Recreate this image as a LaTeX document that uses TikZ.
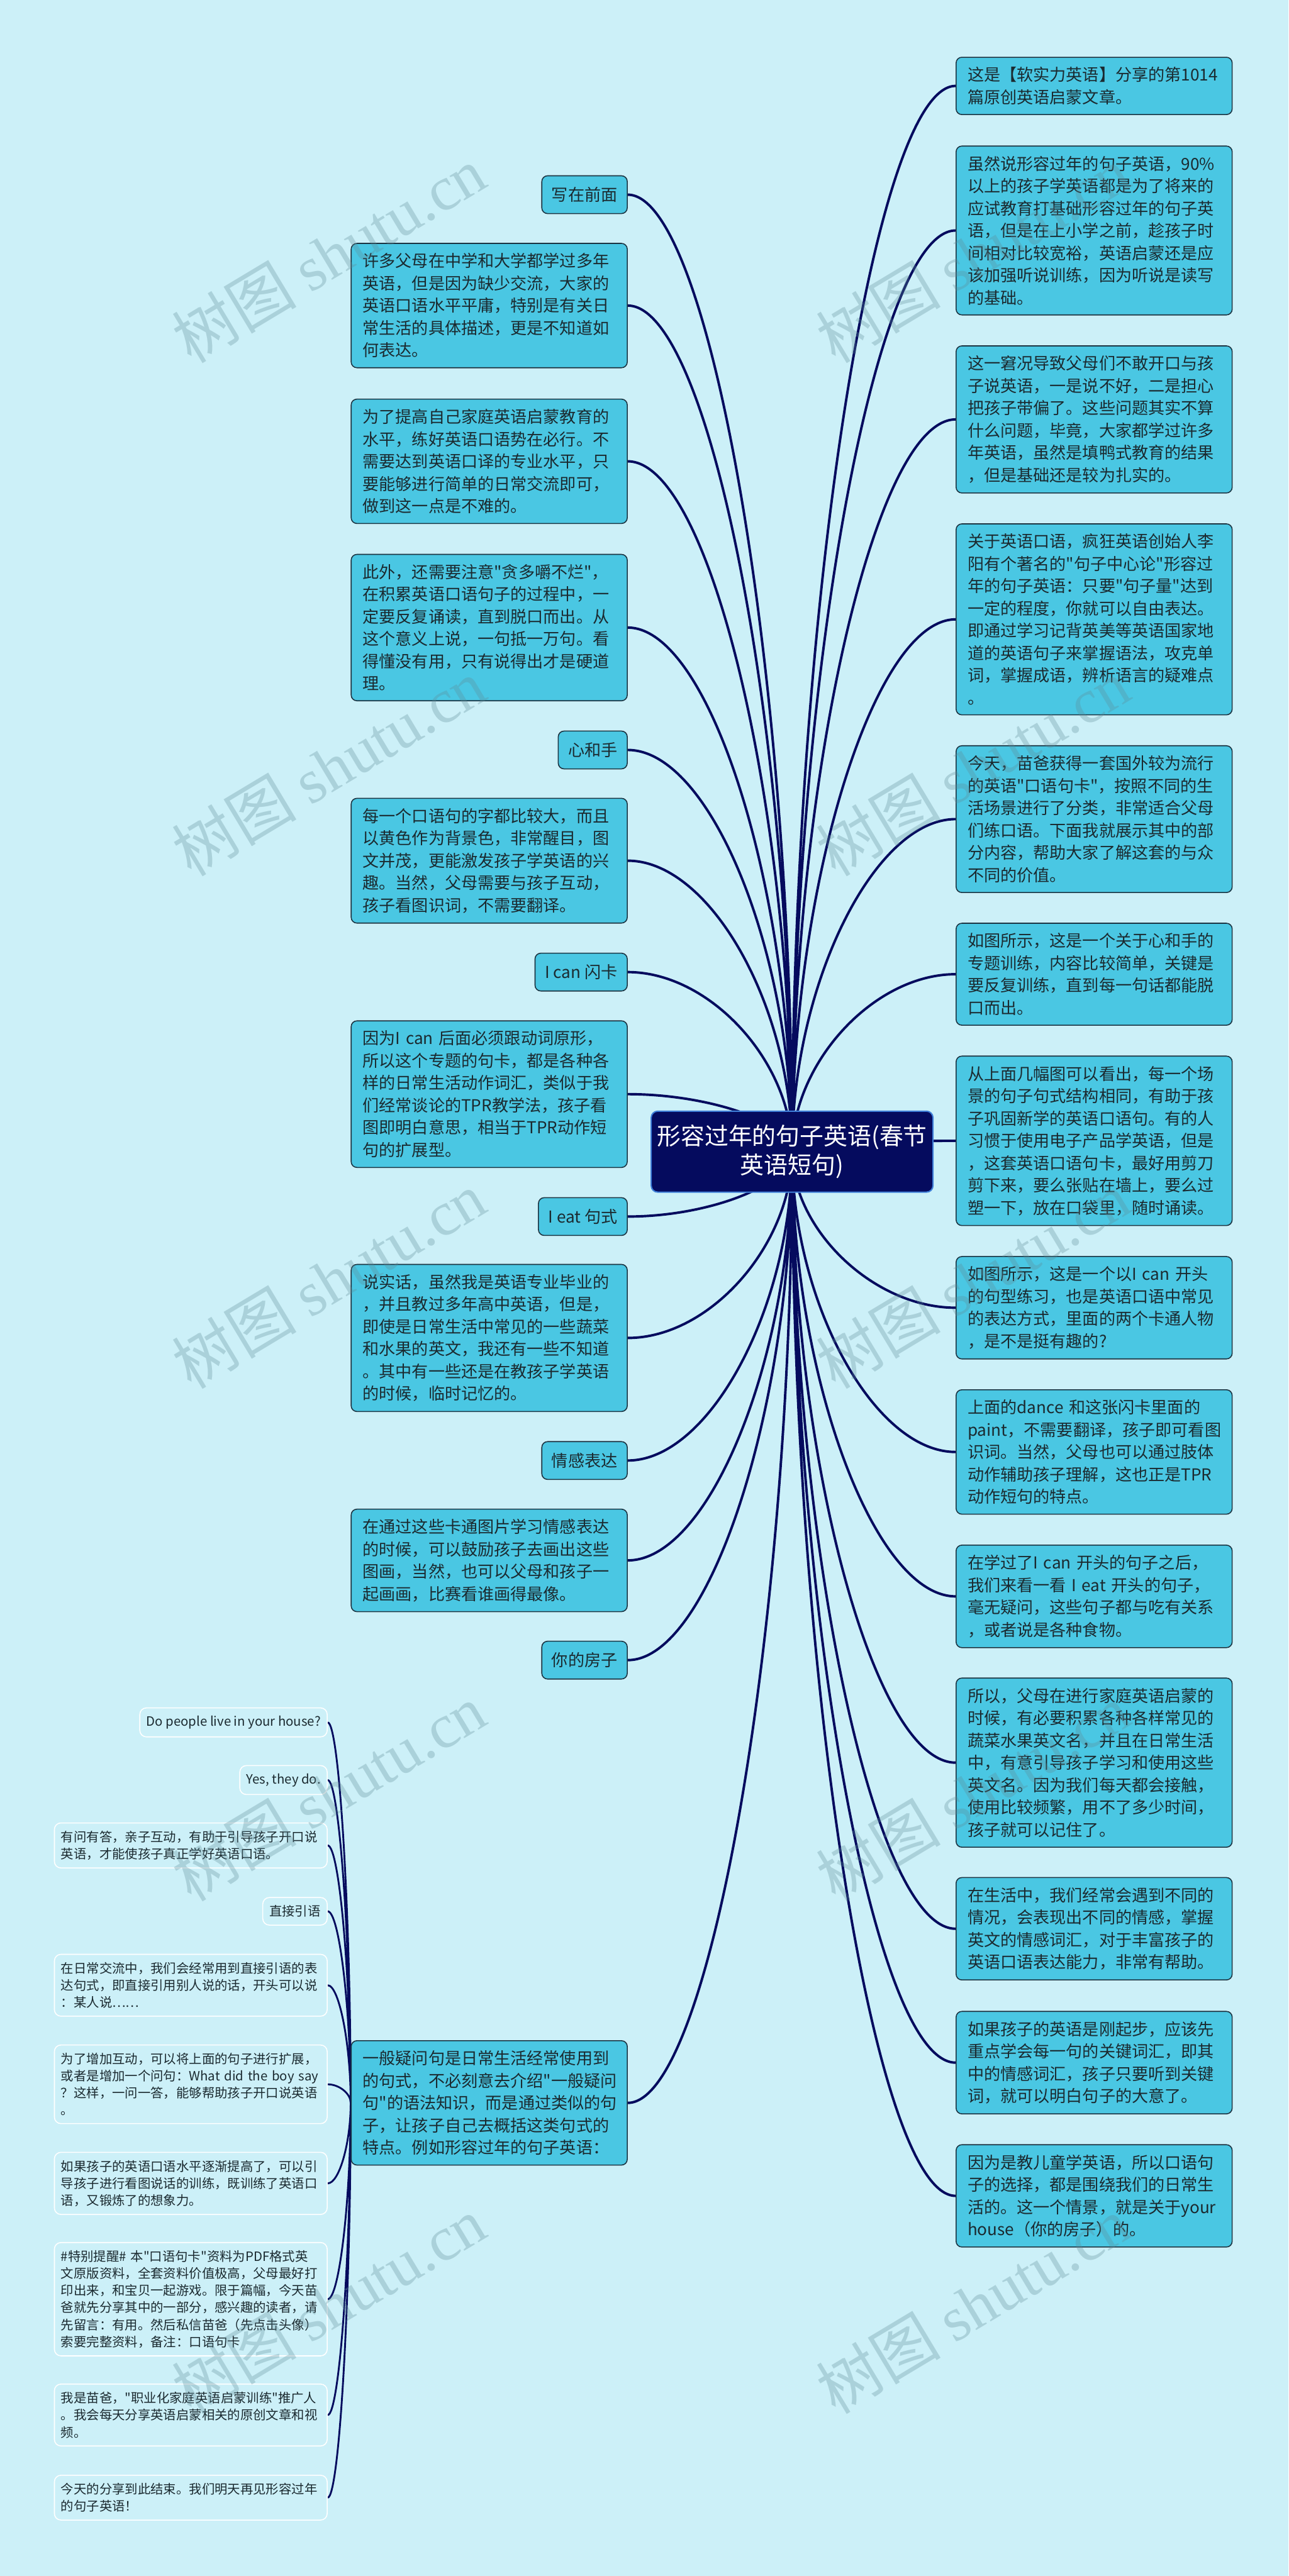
\documentclass[tikz,border=0pt]{standalone}
\usepackage{fontspec}
\setmainfont{Noto Sans CJK SC}[Ligatures=TeXOff]
\newfontfamily\wmfont{Liberation Serif}
\usetikzlibrary{calc}
\definecolor{bgcyan}{HTML}{CCF0F8}
\definecolor{boxcyan}{HTML}{4AC7E3}
\definecolor{boxline}{HTML}{1C3442}
\definecolor{navy}{HTML}{050B5E}
\definecolor{rootline}{HTML}{3F7FD9}
\definecolor{inktext}{HTML}{1B2A30}
\definecolor{wmgray}{HTML}{5E8A96}
\pgfdeclarelayer{bg}
\pgfsetlayers{bg,main}

\begin{document}
\begin{tikzpicture}[x=1pt, y=-1pt,
  box/.style={draw=boxline, line width=0.6pt, rounded corners=3.5pt, fill=boxcyan,
              text=inktext, text width=154pt, inner xsep=7pt, inner ysep=6pt,
              align=left, font=\fontsize{10}{13.6}\selectfont},
  tag/.style={draw=boxline, line width=0.6pt, rounded corners=3.5pt, fill=boxcyan,
              text=inktext, minimum height=23pt, inner xsep=6pt, inner ysep=2pt,
              font=\fontsize{10}{13.6}\selectfont},
  note/.style={draw=white, line width=0.6pt, rounded corners=4pt, text=inktext,
               inner xsep=4pt, inner ysep=4.8pt, align=left,
               font=\fontsize{7.8}{10.4}\selectfont},
  wide/.style={text width=158pt},
  root/.style={draw=rootline, line width=0.8pt, rounded corners=4pt, fill=navy,
               text=white, minimum width=171.5pt, minimum height=49.3pt, align=center,
               font=\fontsize{14.5}{17.4}\selectfont},
  link/.style={draw=navy, line width=#1,
               to path={.. controls ($(\tikztostart)!.5!(\tikztostart|-\tikztotarget)$)
                        and ($(\tikztostart|-\tikztotarget)!.5!(\tikztotarget)$) .. (\tikztotarget)}},
  link/.default=1.5pt,
  wm/.style={text=wmgray, opacity=0.3, rotate=31, font=\fontsize{38}{40}\selectfont},
]
\useasboundingbox (0,0) rectangle (784,1568);
% 中心主题
\node[root] (topic) at (482,701) {形容过年的句子英语(春节\\英语短句)};
\coordinate (hub) at (482,701);
% 右侧
\node[box, anchor=west] (soft)    at (581.5,52.3)  {这是【软实力英语】分享的第1014\\篇原创英语启蒙文章。};
\node[box, anchor=west] (exam)    at (581.5,140.3) {虽然说形容过年的句子英语，90\%\\以上的孩子学英语都是为了将来的\\应试教育打基础形容过年的句子英\\语，但是在上小学之前，趁孩子时\\间相对比较宽裕，英语启蒙还是应\\该加强听说训练，因为听说是读写\\的基础。};
\node[box, anchor=west] (worry)   at (581.5,255.3) {这一窘况导致父母们不敢开口与孩\\子说英语，一是说不好，二是担心\\把孩子带偏了。这些问题其实不算\\什么问题，毕竟，大家都学过许多\\年英语，虽然是填鸭式教育的结果\\，但是基础还是较为扎实的。};
\node[box, anchor=west] (liyang)  at (581.5,377)   {关于英语口语，疯狂英语创始人李\\阳有个著名的"句子中心论"形容过\\年的句子英语：只要"句子量"达到\\一定的程度，你就可以自由表达。\\即通过学习记背英美等英语国家地\\道的英语句子来掌握语法，攻克单\\词，掌握成语，辨析语言的疑难点\\。};
\node[box, anchor=west] (cards)   at (581.5,498.6) {今天，苗爸获得一套国外较为流行\\的英语"口语句卡"，按照不同的生\\活场景进行了分类，非常适合父母\\们练口语。下面我就展示其中的部\\分内容，帮助大家了解这套的与众\\不同的价值。};
\node[box, anchor=west] (heart)   at (581.5,593)   {如图所示，这是一个关于心和手的\\专题训练，内容比较简单，关键是\\要反复训练，直到每一句话都能脱\\口而出。};
\node[box, anchor=west] (scenes)  at (581.5,694.4) {从上面几幅图可以看出，每一个场\\景的句子句式结构相同，有助于孩\\子巩固新学的英语口语句。有的人\\习惯于使用电子产品学英语，但是\\，这套英语口语句卡，最好用剪刀\\剪下来，要么张贴在墙上，要么过\\塑一下，放在口袋里，随时诵读。};
\node[box, anchor=west] (ican)    at (581.5,796)   {如图所示，这是一个以I can 开头\\的句型练习，也是英语口语中常见\\的表达方式，里面的两个卡通人物\\，是不是挺有趣的?};
\node[box, anchor=west] (dance)   at (581.5,883.8) {上面的dance 和这张闪卡里面的\\paint，不需要翻译，孩子即可看图\\识词。当然，父母也可以通过肢体\\动作辅助孩子理解，这也正是TPR\\动作短句的特点。};
\node[box, anchor=west] (ieat)    at (581.5,971.7) {在学过了I can 开头的句子之后，\\我们来看一看 I eat 开头的句子，\\毫无疑问，这些句子都与吃有关系\\，或者说是各种食物。};
\node[box, anchor=west] (veg)     at (581.5,1072.9) {所以，父母在进行家庭英语启蒙的\\时候，有必要积累各种各样常见的\\蔬菜水果英文名，并且在日常生活\\中，有意引导孩子学习和使用这些\\英文名。因为我们每天都会接触，\\使用比较频繁，用不了多少时间，\\孩子就可以记住了。};
\node[box, anchor=west] (feel)    at (581.5,1174)  {在生活中，我们经常会遇到不同的\\情况，会表现出不同的情感，掌握\\英文的情感词汇，对于丰富孩子的\\英语口语表达能力，非常有帮助。};
\node[box, anchor=west] (keyword) at (581.5,1255.5) {如果孩子的英语是刚起步，应该先\\重点学会每一句的关键词汇，即其\\中的情感词汇，孩子只要听到关键\\词，就可以明白句子的大意了。};
\node[box, anchor=west] (house)   at (581.5,1336.6) {因为是教儿童学英语，所以口语句\\子的选择，都是围绕我们的日常生\\活的。这一个情景，就是关于your\\house（你的房子）的。};
% 左侧
\node[tag, anchor=east] (preface)  at (382,118.5) {写在前面};
\node[box, anchor=east] (parents)  at (382,186)   {许多父母在中学和大学都学过多年\\英语，但是因为缺少交流，大家的\\英语口语水平平庸，特别是有关日\\常生活的具体描述，更是不知道如\\何表达。};
\node[box, anchor=east] (level)    at (382,280.8) {为了提高自己家庭英语启蒙教育的\\水平，练好英语口语势在必行。不\\需要达到英语口译的专业水平，只\\要能够进行简单的日常交流即可，\\做到这一点是不难的。};
\node[box, anchor=east] (chew)     at (382,382)   {此外，还需要注意"贪多嚼不烂"，\\在积累英语口语句子的过程中，一\\定要反复诵读，直到脱口而出。从\\这个意义上说，一句抵一万句。看\\得懂没有用，只有说得出才是硬道\\理。};
\node[tag, anchor=east] (hearttag) at (382,456.5) {心和手};
\node[box, anchor=east] (yellow)   at (382,523.9) {每一个口语句的字都比较大，而且\\以黄色作为背景色，非常醒目，图\\文并茂，更能激发孩子学英语的兴\\趣。当然，父母需要与孩子互动，\\孩子看图识词，不需要翻译。};
\node[tag, anchor=east] (icantag)  at (382,591.7) {I can 闪卡};
\node[box, anchor=east] (verbs)    at (382,666)   {因为I can 后面必须跟动词原形，\\所以这个专题的句卡，都是各种各\\样的日常生活动作词汇，类似于我\\们经常谈论的TPR教学法，孩子看\\图即明白意思，相当于TPR动作短\\句的扩展型。};
\node[tag, anchor=east] (ieattag)  at (382,740.5) {I eat 句式};
\node[box, anchor=east] (honest)   at (382,814.4) {说实话，虽然我是英语专业毕业的\\，并且教过多年高中英语，但是，\\即使是日常生活中常见的一些蔬菜\\和水果的英文，我还有一些不知道\\。其中有一些还是在教孩子学英语\\的时候，临时记忆的。};
\node[tag, anchor=east] (feeltag)  at (382,889)   {情感表达};
\node[box, anchor=east] (drawing)  at (382,949.8) {在通过这些卡通图片学习情感表达\\的时候，可以鼓励孩子去画出这些\\图画，当然，也可以父母和孩子一\\起画画，比赛看谁画得最像。};
\node[tag, anchor=east] (housetag) at (382,1010.5) {你的房子};
\node[box, anchor=east] (question) at (382,1280)  {一般疑问句是日常生活经常使用到\\的句式，不必刻意去介绍"一般疑问\\句"的语法知识，而是通过类似的句\\子，让孩子自己去概括这类句式的\\特点。例如形容过年的句子英语：};
% 一般疑问句的子节点
\node[note, anchor=east]       (asked)   at (199.4,1048.4) {Do people live in your house?};
\node[note, anchor=east]       (answer)  at (199.4,1083.5) {Yes, they do.};
\node[note, wide, anchor=east] (qa)      at (199.4,1123.3) {有问有答，亲子互动，有助于引导孩子开口说\\英语，才能使孩子真正学好英语口语。};
\node[note, anchor=east]       (direct)  at (199.4,1163.4) {直接引语};
\node[note, wide, anchor=east] (daily)   at (199.4,1208.4) {在日常交流中，我们会经常用到直接引语的表\\达句式，即直接引用别人说的话，开头可以说\\：某人说……};
\node[note, wide, anchor=east] (extend)  at (199.4,1268.7) {为了增加互动，可以将上面的句子进行扩展，\\或者是增加一个问句：What did the boy say\\？这样，一问一答，能够帮助孩子开口说英语\\。};
\node[note, wide, anchor=east] (picture) at (199.4,1329)   {如果孩子的英语口语水平逐渐提高了，可以引\\导孩子进行看图说话的训练，既训练了英语口\\语，又锻炼了的想象力。};
\node[note, wide, anchor=east] (pdf)     at (199.4,1399.5) {\#特别提醒\# 本"口语句卡"资料为PDF格式英\\文原版资料，全套资料价值极高，父母最好打\\印出来，和宝贝一起游戏。限于篇幅，今天苗\\爸就先分享其中的一部分，感兴趣的读者，请\\先留言：有用。然后私信苗爸（先点击头像）\\索要完整资料，备注：口语句卡};
\node[note, wide, anchor=east] (miao)    at (199.4,1470)   {我是苗爸，"职业化家庭英语启蒙训练"推广人\\。我会每天分享英语启蒙相关的原创文章和视\\频。};
\node[note, wide, anchor=east] (bye)     at (199.4,1520.3) {今天的分享到此结束。我们明天再见形容过年\\的句子英语！};
% 连线
\begin{pgfonlayer}{bg}
\fill[bgcyan] (0,0) rectangle (784,1568);
\draw[link] (hub) to (soft.west)   (hub) to (exam.west)   (hub) to (worry.west)
            (hub) to (liyang.west) (hub) to (cards.west)  (hub) to (heart.west)
            (hub) to (scenes.west) (hub) to (ican.west)   (hub) to (dance.west)
            (hub) to (ieat.west)   (hub) to (veg.west)    (hub) to (feel.west)
            (hub) to (keyword.west) (hub) to (house.west);
\draw[link] (hub) to (preface.east)  (hub) to (parents.east) (hub) to (level.east)
            (hub) to (chew.east)     (hub) to (hearttag.east) (hub) to (yellow.east)
            (hub) to (icantag.east)  (hub) to (verbs.east)   (hub) to (ieattag.east)
            (hub) to (honest.east)   (hub) to (feeltag.east) (hub) to (drawing.east)
            (hub) to (housetag.east) (hub) to (question.east);
\draw[link=1.1pt] (question.west) to (asked.east)   (question.west) to (answer.east)
            (question.west) to (qa.east)      (question.west) to (direct.east)
            (question.west) to (daily.east)   (question.west) to (extend.east)
            (question.west) to (picture.east) (question.west) to (pdf.east)
            (question.west) to (miao.east)    (question.west) to (bye.east);
\end{pgfonlayer}
% 水印
\foreach \x/\y [count=\i] in {200/155,592/155,200/467,592/467,200/779,592/779,200/1091,592/1091,200/1403,592/1403}
  \node[wm] (wm\i) at (\x,\y) {树图 {\wmfont shutu.cn}};
\end{tikzpicture}
\end{document}
